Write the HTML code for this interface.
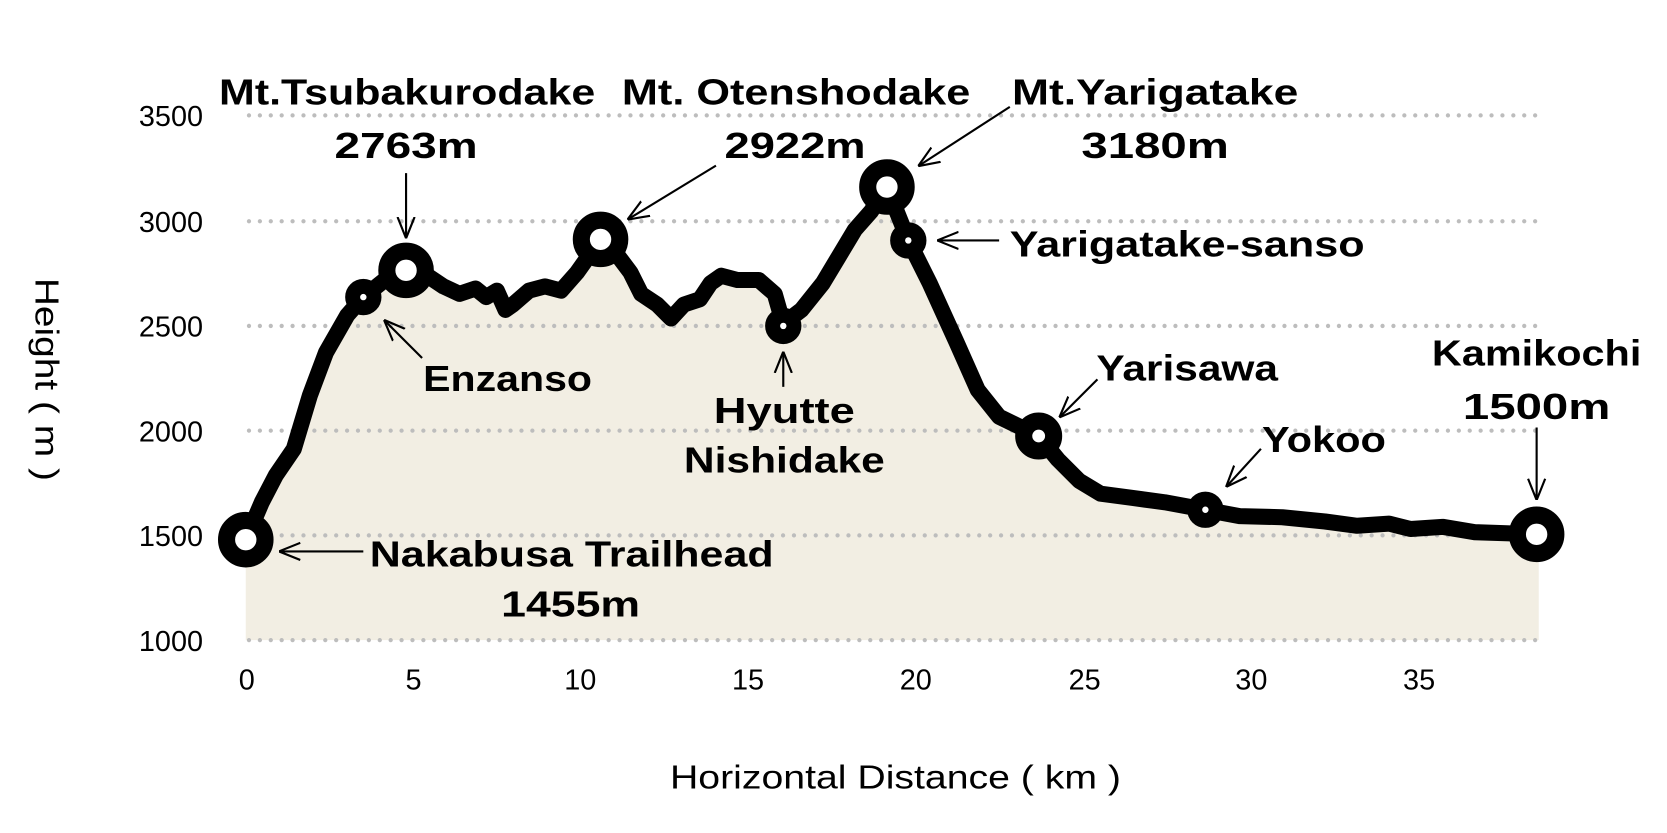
<!DOCTYPE html>
<html><head><meta charset="utf-8"><style>html,body{margin:0;padding:0;background:#fff}svg{display:block}</style></head>
<body>
<svg width="1667" height="833" viewBox="0 0 1560 779.5" preserveAspectRatio="none" xmlns="http://www.w3.org/2000/svg" font-family="Liberation Sans, sans-serif">
<defs><marker id="ah" viewBox="0 0 10 10" refX="9" refY="5" markerWidth="9" markerHeight="9" orient="auto" markerUnits="userSpaceOnUse"><path d="M0,0 L10,5 L0,10 L3,5 Z" fill="#000"/></marker>
<marker id="a" viewBox="0 0 20 20" refX="19" refY="10" markerWidth="20" markerHeight="20" orient="auto" markerUnits="userSpaceOnUse"><path d="M0,2 L20,10 L0,18" fill="none" stroke="#000" stroke-width="2"/></marker></defs>
<path d="M230,505 L245,470 L258,445 L275,420 L290,370 L305,330 L325,295 L340,278 L360,262 L380,253 L400,258 L415,268 L430,275 L445,270 L455,278 L465,272 L473,290 L480,285 L495,272 L510,268 L525,272 L540,255 L562,224 L575,235 L590,255 L600,275 L615,285 L628,298 L640,285 L655,280 L665,265 L675,258 L690,262 L710,262 L725,275 L733,303 L750,290 L770,265 L785,240 L800,215 L815,198 L830,175 L850,225 L870,265 L895,320 L915,365 L935,390 L972,408 L990,430 L1010,450 L1030,462 L1060,466 L1090,470 L1128,477 L1160,483 L1200,484 L1240,488 L1270,492 L1300,490 L1320,495 L1350,493 L1380,498 L1440,500 L1440,599 L230,599 Z" fill="#f2eee3"/>
<g stroke="#bdbdbd" stroke-width="4" stroke-linecap="round" stroke-dasharray="0 10.2">
<line x1="233" y1="108" x2="1440" y2="108"/><line x1="233" y1="207" x2="1440" y2="207"/><line x1="233" y1="305" x2="1440" y2="305"/><line x1="233" y1="403" x2="1440" y2="403"/><line x1="233" y1="501" x2="1440" y2="501"/><line x1="233" y1="599" x2="1440" y2="599"/></g>
<path d="M230,505 L245,470 L258,445 L275,420 L290,370 L305,330 L325,295 L340,278 L360,262 L380,253 L400,258 L415,268 L430,275 L445,270 L455,278 L465,272 L473,290 L480,285 L495,272 L510,268 L525,272 L540,255 L562,224 L575,235 L590,255 L600,275 L615,285 L628,298 L640,285 L655,280 L665,265 L675,258 L690,262 L710,262 L725,275 L733,303 L750,290 L770,265 L785,240 L800,215 L815,198 L830,175 L850,225 L870,265 L895,320 L915,365 L935,390 L972,408 L990,430 L1010,450 L1030,462 L1060,466 L1090,470 L1128,477 L1160,483 L1200,484 L1240,488 L1270,492 L1300,490 L1320,495 L1350,493 L1380,498 L1438,500" fill="none" stroke="#000" stroke-width="15" stroke-linejoin="round" stroke-linecap="round"/>
<g fill="#fff" stroke="#000" stroke-width="16">
<circle cx="230" cy="505" r="18"/><circle cx="380" cy="253" r="18"/><circle cx="562" cy="224" r="18"/><circle cx="830" cy="175" r="18"/><circle cx="1438" cy="500" r="18"/><circle cx="972" cy="408" r="14"/></g>
<g fill="#fff" stroke="#000" stroke-width="14">
<circle cx="340" cy="278" r="10"/><circle cx="850" cy="225" r="10"/><circle cx="733" cy="305" r="10"/><circle cx="1128" cy="477" r="10"/></g>
<g stroke="#000" stroke-width="2" marker-end="url(#a)">
<line x1="380" y1="162" x2="380" y2="222"/><line x1="670" y1="155" x2="588" y2="205"/><line x1="945" y1="100" x2="860" y2="155"/><line x1="935" y1="225" x2="878" y2="225"/><line x1="395" y1="335" x2="360" y2="300"/><line x1="733" y1="362" x2="733" y2="330"/><line x1="1027" y1="355" x2="992" y2="390"/><line x1="1180" y1="420" x2="1148" y2="455"/><line x1="1438" y1="400" x2="1438" y2="467"/><line x1="340" y1="516" x2="262" y2="516"/></g>
<g font-weight="bold" font-size="34" fill="#000">
<text x="381" y="98" text-anchor="middle" textLength="352" lengthAdjust="spacingAndGlyphs">Mt.Tsubakurodake</text>
<text x="380" y="148" text-anchor="middle" textLength="134" lengthAdjust="spacingAndGlyphs">2763m</text>
<text x="745" y="98" text-anchor="middle" textLength="326" lengthAdjust="spacingAndGlyphs">Mt. Otenshodake</text>
<text x="744" y="148" text-anchor="middle" textLength="132" lengthAdjust="spacingAndGlyphs">2922m</text>
<text x="1081" y="98" text-anchor="middle" textLength="268" lengthAdjust="spacingAndGlyphs">Mt.Yarigatake</text>
<text x="1081" y="148" text-anchor="middle" textLength="138" lengthAdjust="spacingAndGlyphs">3180m</text>
<text x="945" y="240" textLength="332" lengthAdjust="spacingAndGlyphs">Yarigatake-sanso</text>
<text x="396" y="366" textLength="158" lengthAdjust="spacingAndGlyphs">Enzanso</text>
<text x="734" y="396" text-anchor="middle" textLength="132" lengthAdjust="spacingAndGlyphs">Hyutte</text>
<text x="734" y="442" text-anchor="middle" textLength="188" lengthAdjust="spacingAndGlyphs">Nishidake</text>
<text x="1026" y="356" textLength="170" lengthAdjust="spacingAndGlyphs">Yarisawa</text>
<text x="1181" y="423" textLength="116" lengthAdjust="spacingAndGlyphs">Yokoo</text>
<text x="1438" y="342" text-anchor="middle" textLength="196" lengthAdjust="spacingAndGlyphs">Kamikochi</text>
<text x="1438" y="392" text-anchor="middle" textLength="138" lengthAdjust="spacingAndGlyphs">1500m</text>
<text x="346" y="530" textLength="378" lengthAdjust="spacingAndGlyphs">Nakabusa Trailhead</text>
<text x="534" y="577" text-anchor="middle" textLength="130" lengthAdjust="spacingAndGlyphs">1455m</text>
</g>
<g font-size="27" fill="#000" text-anchor="end">
<text x="190" y="118">3500</text><text x="190" y="217">3000</text><text x="190" y="315">2500</text><text x="190" y="413">2000</text><text x="190" y="511">1500</text><text x="190" y="609">1000</text></g>
<g font-size="27" fill="#000" text-anchor="middle">
<text x="231" y="645">0</text><text x="387" y="645">5</text><text x="543" y="645">10</text><text x="700" y="645">15</text><text x="857" y="645">20</text><text x="1015" y="645">25</text><text x="1171" y="645">30</text><text x="1328" y="645">35</text></g>
<text x="838" y="738" font-size="31" text-anchor="middle" textLength="422" lengthAdjust="spacingAndGlyphs">Horizontal Distance ( km )</text>
<text transform="translate(33,355) rotate(90)" font-size="31" text-anchor="middle" textLength="190" lengthAdjust="spacingAndGlyphs">Height ( m )</text>
</svg>
</body></html>
